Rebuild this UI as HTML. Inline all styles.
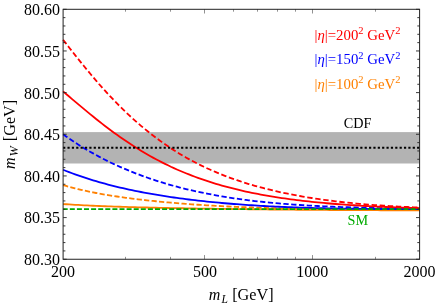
<!DOCTYPE html>
<html><head><meta charset="utf-8"><title>mW plot</title>
<style>html,body{margin:0;padding:0;background:#fff;}body{width:436px;height:304px;position:relative;overflow:hidden;}</style>
</head><body>
<svg width="436" height="304" viewBox="0 0 436 304" style="position:absolute;left:0;top:0;will-change:transform;font-family:'Liberation Serif',serif">
<rect x="63.1" y="132.1" width="356.5" height="31.4" fill="#b3b3b3"/>
<g fill="none" stroke-width="1.8" stroke-linejoin="round">
<path d="M63.1 204.03 L66.1 204.23 L69.1 204.43 L72.1 204.62 L75.1 204.80 L78.1 204.97 L81.1 205.14 L84.1 205.29 L87.1 205.44 L90.1 205.59 L93.1 205.73 L96.1 205.86 L99.0 205.99 L102.0 206.11 L105.0 206.23 L108.0 206.34 L111.0 206.45 L114.0 206.56 L117.0 206.66 L120.0 206.76 L123.0 206.85 L126.0 206.95 L129.0 207.03 L132.0 207.12 L135.0 207.20 L138.0 207.29 L141.0 207.36 L144.0 207.44 L147.0 207.52 L150.0 207.59 L153.0 207.66 L156.0 207.73 L159.0 207.79 L162.0 207.86 L165.0 207.92 L168.0 207.98 L170.9 208.04 L173.9 208.10 L176.9 208.16 L179.9 208.22 L182.9 208.27 L185.9 208.33 L188.9 208.38 L191.9 208.43 L194.9 208.48 L197.9 208.53 L200.9 208.58 L203.9 208.63 L206.9 208.67 L209.9 208.72 L212.9 208.76 L215.9 208.81 L218.9 208.85 L221.9 208.89 L224.9 208.94 L227.9 208.98 L230.9 209.02 L233.9 209.06 L236.9 209.09 L239.9 209.13 L242.8 209.17 L245.8 209.21 L248.8 209.24 L251.8 209.28 L254.8 209.31 L257.8 209.35 L260.8 209.38 L263.8 209.41 L266.8 209.44 L269.8 209.48 L272.8 209.51 L275.8 209.54 L278.8 209.57 L281.8 209.60 L284.8 209.62 L287.8 209.65 L290.8 209.68 L293.8 209.71 L296.8 209.73 L299.8 209.76 L302.8 209.78 L305.8 209.81 L308.8 209.83 L311.8 209.85 L314.7 209.87 L317.7 209.90 L320.7 209.92 L323.7 209.94 L326.7 209.96 L329.7 209.98 L332.7 210.00 L335.7 210.02 L338.7 210.03 L341.7 210.05 L344.7 210.07 L347.7 210.08 L350.7 210.10 L353.7 210.12 L356.7 210.13 L359.7 210.15 L362.7 210.16 L365.7 210.17 L368.7 210.19 L371.7 210.20 L374.7 210.21 L377.7 210.22 L380.7 210.23 L383.7 210.24 L386.6 210.25 L389.6 210.26 L392.6 210.27 L395.6 210.28 L398.6 210.29 L401.6 210.30 L404.6 210.31 L407.6 210.32 L410.6 210.32 L413.6 210.33 L416.6 210.34 L419.6 210.34" stroke="#ff8000"/>
<path d="M63.1 185.08 L66.1 185.97 L69.1 186.82 L72.1 187.63 L75.1 188.41 L78.1 189.15 L81.1 189.86 L84.1 190.54 L87.1 191.19 L90.1 191.82 L93.1 192.42 L96.1 193.00 L99.0 193.56 L102.0 194.09 L105.0 194.61 L108.0 195.11 L111.0 195.60 L114.0 196.06 L117.0 196.51 L120.0 196.95 L123.0 197.38 L126.0 197.78 L129.0 198.18 L132.0 198.57 L135.0 198.94 L138.0 199.30 L141.0 199.66 L144.0 200.00 L147.0 200.33 L150.0 200.65 L153.0 200.97 L156.0 201.27 L159.0 201.57 L162.0 201.86 L165.0 202.14 L168.0 202.41 L170.9 202.68 L173.9 202.93 L176.9 203.19 L179.9 203.43 L182.9 203.67 L185.9 203.90 L188.9 204.12 L191.9 204.34 L194.9 204.55 L197.9 204.75 L200.9 204.95 L203.9 205.14 L206.9 205.33 L209.9 205.51 L212.9 205.68 L215.9 205.85 L218.9 206.02 L221.9 206.18 L224.9 206.33 L227.9 206.48 L230.9 206.62 L233.9 206.76 L236.9 206.90 L239.9 207.02 L242.8 207.15 L245.8 207.27 L248.8 207.39 L251.8 207.50 L254.8 207.60 L257.8 207.71 L260.8 207.81 L263.8 207.90 L266.8 207.99 L269.8 208.08 L272.8 208.17 L275.8 208.25 L278.8 208.32 L281.8 208.40 L284.8 208.47 L287.8 208.54 L290.8 208.60 L293.8 208.67 L296.8 208.73 L299.8 208.78 L302.8 208.84 L305.8 208.89 L308.8 208.94 L311.8 208.98 L314.7 209.03 L317.7 209.07 L320.7 209.11 L323.7 209.15 L326.7 209.19 L329.7 209.22 L332.7 209.26 L335.7 209.29 L338.7 209.32 L341.7 209.35 L344.7 209.37 L347.7 209.40 L350.7 209.42 L353.7 209.45 L356.7 209.47 L359.7 209.49 L362.7 209.51 L365.7 209.53 L368.7 209.54 L371.7 209.56 L374.7 209.58 L377.7 209.59 L380.7 209.60 L383.7 209.62 L386.6 209.63 L389.6 209.64 L392.6 209.65 L395.6 209.66 L398.6 209.67 L401.6 209.68 L404.6 209.69 L407.6 209.70 L410.6 209.71 L413.6 209.72 L416.6 209.72 L419.6 209.73" stroke="#ff8000" stroke-dasharray="5.2 2.3"/>
<path d="M63.1 169.77 L66.1 170.97 L69.1 172.14 L72.1 173.26 L75.1 174.36 L78.1 175.43 L81.1 176.46 L84.1 177.46 L87.1 178.44 L90.1 179.39 L93.1 180.31 L96.1 181.20 L99.0 182.07 L102.0 182.92 L105.0 183.74 L108.0 184.54 L111.0 185.32 L114.0 186.07 L117.0 186.81 L120.0 187.52 L123.0 188.21 L126.0 188.89 L129.0 189.55 L132.0 190.19 L135.0 190.81 L138.0 191.41 L141.0 192.00 L144.0 192.57 L147.0 193.13 L150.0 193.67 L153.0 194.19 L156.0 194.71 L159.0 195.20 L162.0 195.69 L165.0 196.16 L168.0 196.62 L170.9 197.06 L173.9 197.50 L176.9 197.92 L179.9 198.33 L182.9 198.73 L185.9 199.12 L188.9 199.49 L191.9 199.86 L194.9 200.21 L197.9 200.56 L200.9 200.89 L203.9 201.22 L206.9 201.54 L209.9 201.84 L212.9 202.14 L215.9 202.43 L218.9 202.71 L221.9 202.98 L224.9 203.25 L227.9 203.50 L230.9 203.75 L233.9 203.99 L236.9 204.22 L239.9 204.45 L242.8 204.66 L245.8 204.87 L248.8 205.08 L251.8 205.27 L254.8 205.46 L257.8 205.64 L260.8 205.82 L263.8 205.99 L266.8 206.15 L269.8 206.31 L272.8 206.46 L275.8 206.61 L278.8 206.75 L281.8 206.88 L284.8 207.01 L287.8 207.13 L290.8 207.25 L293.8 207.36 L296.8 207.47 L299.8 207.58 L302.8 207.67 L305.8 207.77 L308.8 207.86 L311.8 207.94 L314.7 208.03 L317.7 208.10 L320.7 208.18 L323.7 208.25 L326.7 208.31 L329.7 208.38 L332.7 208.44 L335.7 208.49 L338.7 208.55 L341.7 208.60 L344.7 208.64 L347.7 208.69 L350.7 208.73 L353.7 208.77 L356.7 208.81 L359.7 208.84 L362.7 208.87 L365.7 208.90 L368.7 208.93 L371.7 208.96 L374.7 208.98 L377.7 209.01 L380.7 209.03 L383.7 209.05 L386.6 209.07 L389.6 209.08 L392.6 209.10 L395.6 209.11 L398.6 209.12 L401.6 209.14 L404.6 209.15 L407.6 209.16 L410.6 209.17 L413.6 209.18 L416.6 209.18 L419.6 209.19" stroke="#0000ff"/>
<path d="M63.1 134.28 L66.1 136.42 L69.1 138.51 L72.1 140.54 L75.1 142.52 L78.1 144.45 L81.1 146.33 L84.1 148.16 L87.1 149.95 L90.1 151.69 L93.1 153.38 L96.1 155.04 L99.0 156.65 L102.0 158.22 L105.0 159.75 L108.0 161.24 L111.0 162.70 L114.0 164.11 L117.0 165.50 L120.0 166.84 L123.0 168.16 L126.0 169.44 L129.0 170.68 L132.0 171.90 L135.0 173.08 L138.0 174.23 L141.0 175.36 L144.0 176.45 L147.0 177.52 L150.0 178.56 L153.0 179.57 L156.0 180.55 L159.0 181.51 L162.0 182.44 L165.0 183.34 L168.0 184.22 L170.9 185.08 L173.9 185.91 L176.9 186.72 L179.9 187.51 L182.9 188.27 L185.9 189.02 L188.9 189.74 L191.9 190.44 L194.9 191.12 L197.9 191.78 L200.9 192.42 L203.9 193.04 L206.9 193.64 L209.9 194.22 L212.9 194.79 L215.9 195.34 L218.9 195.87 L221.9 196.38 L224.9 196.88 L227.9 197.36 L230.9 197.82 L233.9 198.27 L236.9 198.71 L239.9 199.13 L242.8 199.53 L245.8 199.93 L248.8 200.30 L251.8 200.67 L254.8 201.02 L257.8 201.36 L260.8 201.69 L263.8 202.01 L266.8 202.31 L269.8 202.60 L272.8 202.89 L275.8 203.16 L278.8 203.42 L281.8 203.67 L284.8 203.91 L287.8 204.15 L290.8 204.37 L293.8 204.59 L296.8 204.79 L299.8 204.99 L302.8 205.18 L305.8 205.37 L308.8 205.54 L311.8 205.71 L314.7 205.87 L317.7 206.02 L320.7 206.17 L323.7 206.31 L326.7 206.45 L329.7 206.58 L332.7 206.71 L335.7 206.82 L338.7 206.94 L341.7 207.05 L344.7 207.15 L347.7 207.25 L350.7 207.35 L353.7 207.44 L356.7 207.52 L359.7 207.61 L362.7 207.69 L365.7 207.76 L368.7 207.83 L371.7 207.90 L374.7 207.97 L377.7 208.03 L380.7 208.09 L383.7 208.14 L386.6 208.20 L389.6 208.25 L392.6 208.30 L395.6 208.35 L398.6 208.39 L401.6 208.43 L404.6 208.47 L407.6 208.51 L410.6 208.55 L413.6 208.58 L416.6 208.61 L419.6 208.65" stroke="#0000ff" stroke-dasharray="5.3 2.5"/>
<path d="M63.1 91.43 L66.1 93.98 L69.1 96.52 L72.1 99.07 L75.1 101.61 L78.1 104.14 L81.1 106.66 L84.1 109.16 L87.1 111.64 L90.1 114.09 L93.1 116.52 L96.1 118.93 L99.0 121.31 L102.0 123.65 L105.0 125.96 L108.0 128.24 L111.0 130.48 L114.0 132.68 L117.0 134.84 L120.0 136.96 L123.0 139.05 L126.0 141.09 L129.0 143.09 L132.0 145.05 L135.0 146.97 L138.0 148.85 L141.0 150.68 L144.0 152.47 L147.0 154.22 L150.0 155.93 L153.0 157.59 L156.0 159.21 L159.0 160.79 L162.0 162.34 L165.0 163.84 L168.0 165.30 L170.9 166.72 L173.9 168.10 L176.9 169.45 L179.9 170.76 L182.9 172.03 L185.9 173.26 L188.9 174.46 L191.9 175.63 L194.9 176.76 L197.9 177.86 L200.9 178.92 L203.9 179.96 L206.9 180.96 L209.9 181.93 L212.9 182.88 L215.9 183.79 L218.9 184.68 L221.9 185.54 L224.9 186.37 L227.9 187.18 L230.9 187.96 L233.9 188.72 L236.9 189.45 L239.9 190.17 L242.8 190.85 L245.8 191.52 L248.8 192.17 L251.8 192.79 L254.8 193.40 L257.8 193.98 L260.8 194.55 L263.8 195.10 L266.8 195.63 L269.8 196.14 L272.8 196.64 L275.8 197.12 L278.8 197.59 L281.8 198.04 L284.8 198.47 L287.8 198.89 L290.8 199.30 L293.8 199.69 L296.8 200.07 L299.8 200.44 L302.8 200.80 L305.8 201.14 L308.8 201.47 L311.8 201.79 L314.7 202.10 L317.7 202.40 L320.7 202.69 L323.7 202.97 L326.7 203.24 L329.7 203.50 L332.7 203.75 L335.7 203.99 L338.7 204.23 L341.7 204.45 L344.7 204.67 L347.7 204.88 L350.7 205.08 L353.7 205.27 L356.7 205.46 L359.7 205.64 L362.7 205.82 L365.7 205.98 L368.7 206.14 L371.7 206.30 L374.7 206.45 L377.7 206.59 L380.7 206.73 L383.7 206.86 L386.6 206.98 L389.6 207.10 L392.6 207.22 L395.6 207.33 L398.6 207.44 L401.6 207.54 L404.6 207.64 L407.6 207.73 L410.6 207.82 L413.6 207.90 L416.6 207.98 L419.6 208.06" stroke="#ff0000"/>
<path d="M63.1 39.77 L66.1 43.64 L69.1 47.49 L72.1 51.32 L75.1 55.11 L78.1 58.88 L81.1 62.60 L84.1 66.29 L87.1 69.93 L90.1 73.53 L93.1 77.07 L96.1 80.56 L99.0 84.00 L102.0 87.39 L105.0 90.71 L108.0 93.98 L111.0 97.19 L114.0 100.33 L117.0 103.42 L120.0 106.44 L123.0 109.40 L126.0 112.29 L129.0 115.12 L132.0 117.89 L135.0 120.59 L138.0 123.23 L141.0 125.81 L144.0 128.33 L147.0 130.78 L150.0 133.17 L153.0 135.50 L156.0 137.78 L159.0 139.99 L162.0 142.14 L165.0 144.24 L168.0 146.28 L170.9 148.27 L173.9 150.20 L176.9 152.08 L179.9 153.91 L182.9 155.68 L185.9 157.41 L188.9 159.09 L191.9 160.72 L194.9 162.30 L197.9 163.84 L200.9 165.33 L203.9 166.78 L206.9 168.19 L209.9 169.55 L212.9 170.88 L215.9 172.17 L218.9 173.41 L221.9 174.63 L224.9 175.80 L227.9 176.94 L230.9 178.05 L233.9 179.12 L236.9 180.16 L239.9 181.17 L242.8 182.15 L245.8 183.10 L248.8 184.02 L251.8 184.92 L254.8 185.78 L257.8 186.62 L260.8 187.44 L263.8 188.23 L266.8 188.99 L269.8 189.74 L272.8 190.46 L275.8 191.15 L278.8 191.83 L281.8 192.49 L284.8 193.12 L287.8 193.74 L290.8 194.33 L293.8 194.91 L296.8 195.47 L299.8 196.01 L302.8 196.54 L305.8 197.04 L308.8 197.54 L311.8 198.01 L314.7 198.47 L317.7 198.92 L320.7 199.35 L323.7 199.77 L326.7 200.18 L329.7 200.57 L332.7 200.94 L335.7 201.31 L338.7 201.66 L341.7 202.00 L344.7 202.33 L347.7 202.65 L350.7 202.96 L353.7 203.26 L356.7 203.54 L359.7 203.82 L362.7 204.08 L365.7 204.34 L368.7 204.58 L371.7 204.82 L374.7 205.05 L377.7 205.27 L380.7 205.48 L383.7 205.68 L386.6 205.87 L389.6 206.06 L392.6 206.24 L395.6 206.41 L398.6 206.57 L401.6 206.73 L404.6 206.87 L407.6 207.02 L410.6 207.15 L413.6 207.28 L416.6 207.41 L419.6 207.52" stroke="#ff0000" stroke-dasharray="5.4 2.7"/>
<path d="M63.1 209.1 L419.6 209.1" stroke="#00aa00" stroke-dasharray="5.0 2.1" stroke-dashoffset="0.4"/>
<path d="M63.1 147.8 L419.6 147.8" stroke="#000" stroke-width="2" stroke-dasharray="2.2 2.17"/>
</g>
<g stroke="#222" stroke-width="1" fill="none" shape-rendering="auto">
<rect x="63.1" y="9.3" width="356.5" height="249.95"/>
<path d="M125.50 259.25v-2.4 M125.50 9.3v2.4 M170.50 259.25v-2.4 M170.50 9.3v2.4 M204.50 259.25v-4.2 M204.50 9.3v4.2 M233.50 259.25v-2.4 M233.50 9.3v2.4 M257.50 259.25v-2.4 M257.50 9.3v2.4 M277.50 259.25v-2.4 M277.50 9.3v2.4 M295.50 259.25v-2.4 M295.50 9.3v2.4 M312.50 259.25v-4.2 M312.50 9.3v4.2 M375.50 259.25v-2.4 M375.50 9.3v2.4" stroke-width="0.5" stroke="#222"/>
<path d="M63.1 259.25h3.6 M419.6 259.25h-3.6 M63.1 250.92h2.3 M419.6 250.92h-2.3 M63.1 242.59h2.3 M419.6 242.59h-2.3 M63.1 234.25h2.3 M419.6 234.25h-2.3 M63.1 225.92h2.3 M419.6 225.92h-2.3 M63.1 217.59h3.6 M419.6 217.59h-3.6 M63.1 209.26h2.3 M419.6 209.26h-2.3 M63.1 200.93h2.3 M419.6 200.93h-2.3 M63.1 192.60h2.3 M419.6 192.60h-2.3 M63.1 184.26h2.3 M419.6 184.26h-2.3 M63.1 175.93h3.6 M419.6 175.93h-3.6 M63.1 167.60h2.3 M419.6 167.60h-2.3 M63.1 159.27h2.3 M419.6 159.27h-2.3 M63.1 150.94h2.3 M419.6 150.94h-2.3 M63.1 142.61h2.3 M419.6 142.61h-2.3 M63.1 134.27h3.6 M419.6 134.27h-3.6 M63.1 125.94h2.3 M419.6 125.94h-2.3 M63.1 117.61h2.3 M419.6 117.61h-2.3 M63.1 109.28h2.3 M419.6 109.28h-2.3 M63.1 100.95h2.3 M419.6 100.95h-2.3 M63.1 92.62h3.6 M419.6 92.62h-3.6 M63.1 84.29h2.3 M419.6 84.29h-2.3 M63.1 75.95h2.3 M419.6 75.95h-2.3 M63.1 67.62h2.3 M419.6 67.62h-2.3 M63.1 59.29h2.3 M419.6 59.29h-2.3 M63.1 50.96h3.6 M419.6 50.96h-3.6 M63.1 42.63h2.3 M419.6 42.63h-2.3 M63.1 34.30h2.3 M419.6 34.30h-2.3 M63.1 25.96h2.3 M419.6 25.96h-2.3 M63.1 17.63h2.3 M419.6 17.63h-2.3 M63.1 9.30h3.6 M419.6 9.30h-3.6" stroke-width="0.9" stroke="#222"/>
</g>
<g font-size="16" fill="#000">
<text x="60.1" y="265.15" text-anchor="end">80.30</text>
<text x="60.1" y="223.49" text-anchor="end">80.35</text>
<text x="60.1" y="181.83" text-anchor="end">80.40</text>
<text x="60.1" y="140.17" text-anchor="end">80.45</text>
<text x="60.1" y="98.52" text-anchor="end">80.50</text>
<text x="60.1" y="56.86" text-anchor="end">80.55</text>
<text x="60.1" y="15.20" text-anchor="end">80.60</text>
<text x="63.10" y="276.7" text-anchor="middle">200</text>
<text x="204.97" y="276.7" text-anchor="middle">500</text>
<text x="312.28" y="276.7" text-anchor="middle">1000</text>
<text x="419.60" y="276.7" text-anchor="middle">2000</text>
</g>
<text y="299.7" font-size="16" fill="#000"><tspan x="208.8" font-style="italic">m</tspan><tspan x="221.5" y="302.6" font-style="italic" font-size="11.5">L</tspan><tspan x="232.2" y="299.7" font-size="16.2">[GeV]</tspan></text>
<g transform="translate(14.5 0) rotate(-90)"><text y="0" font-size="16" fill="#000"><tspan x="-168.9" font-style="italic">m</tspan><tspan x="-156.4" y="3.4" font-style="italic" font-size="12.3">W</tspan><tspan x="-141.2" y="0" font-size="16.2">[GeV]</tspan></text></g>
<text x="314.5" y="39.5" font-size="14.8" fill="#ff0000">|<tspan font-style="italic">η</tspan>|=200<tspan font-size="10.5" dy="-5.3">2</tspan><tspan dy="5.3"> GeV</tspan><tspan font-size="10.5" dy="-5.3">2</tspan></text>
<text x="314.5" y="64" font-size="14.8" fill="#0000ff">|<tspan font-style="italic">η</tspan>|=150<tspan font-size="10.5" dy="-5.3">2</tspan><tspan dy="5.3"> GeV</tspan><tspan font-size="10.5" dy="-5.3">2</tspan></text>
<text x="314.5" y="88.5" font-size="14.8" fill="#ff8000">|<tspan font-style="italic">η</tspan>|=100<tspan font-size="10.5" dy="-5.3">2</tspan><tspan dy="5.3"> GeV</tspan><tspan font-size="10.5" dy="-5.3">2</tspan></text>
<text x="343.7" y="127.5" font-size="14.2" fill="#000">CDF</text>
<text x="347.5" y="224.5" font-size="14.2" fill="#00aa00">SM</text>
</svg>
</body></html>
